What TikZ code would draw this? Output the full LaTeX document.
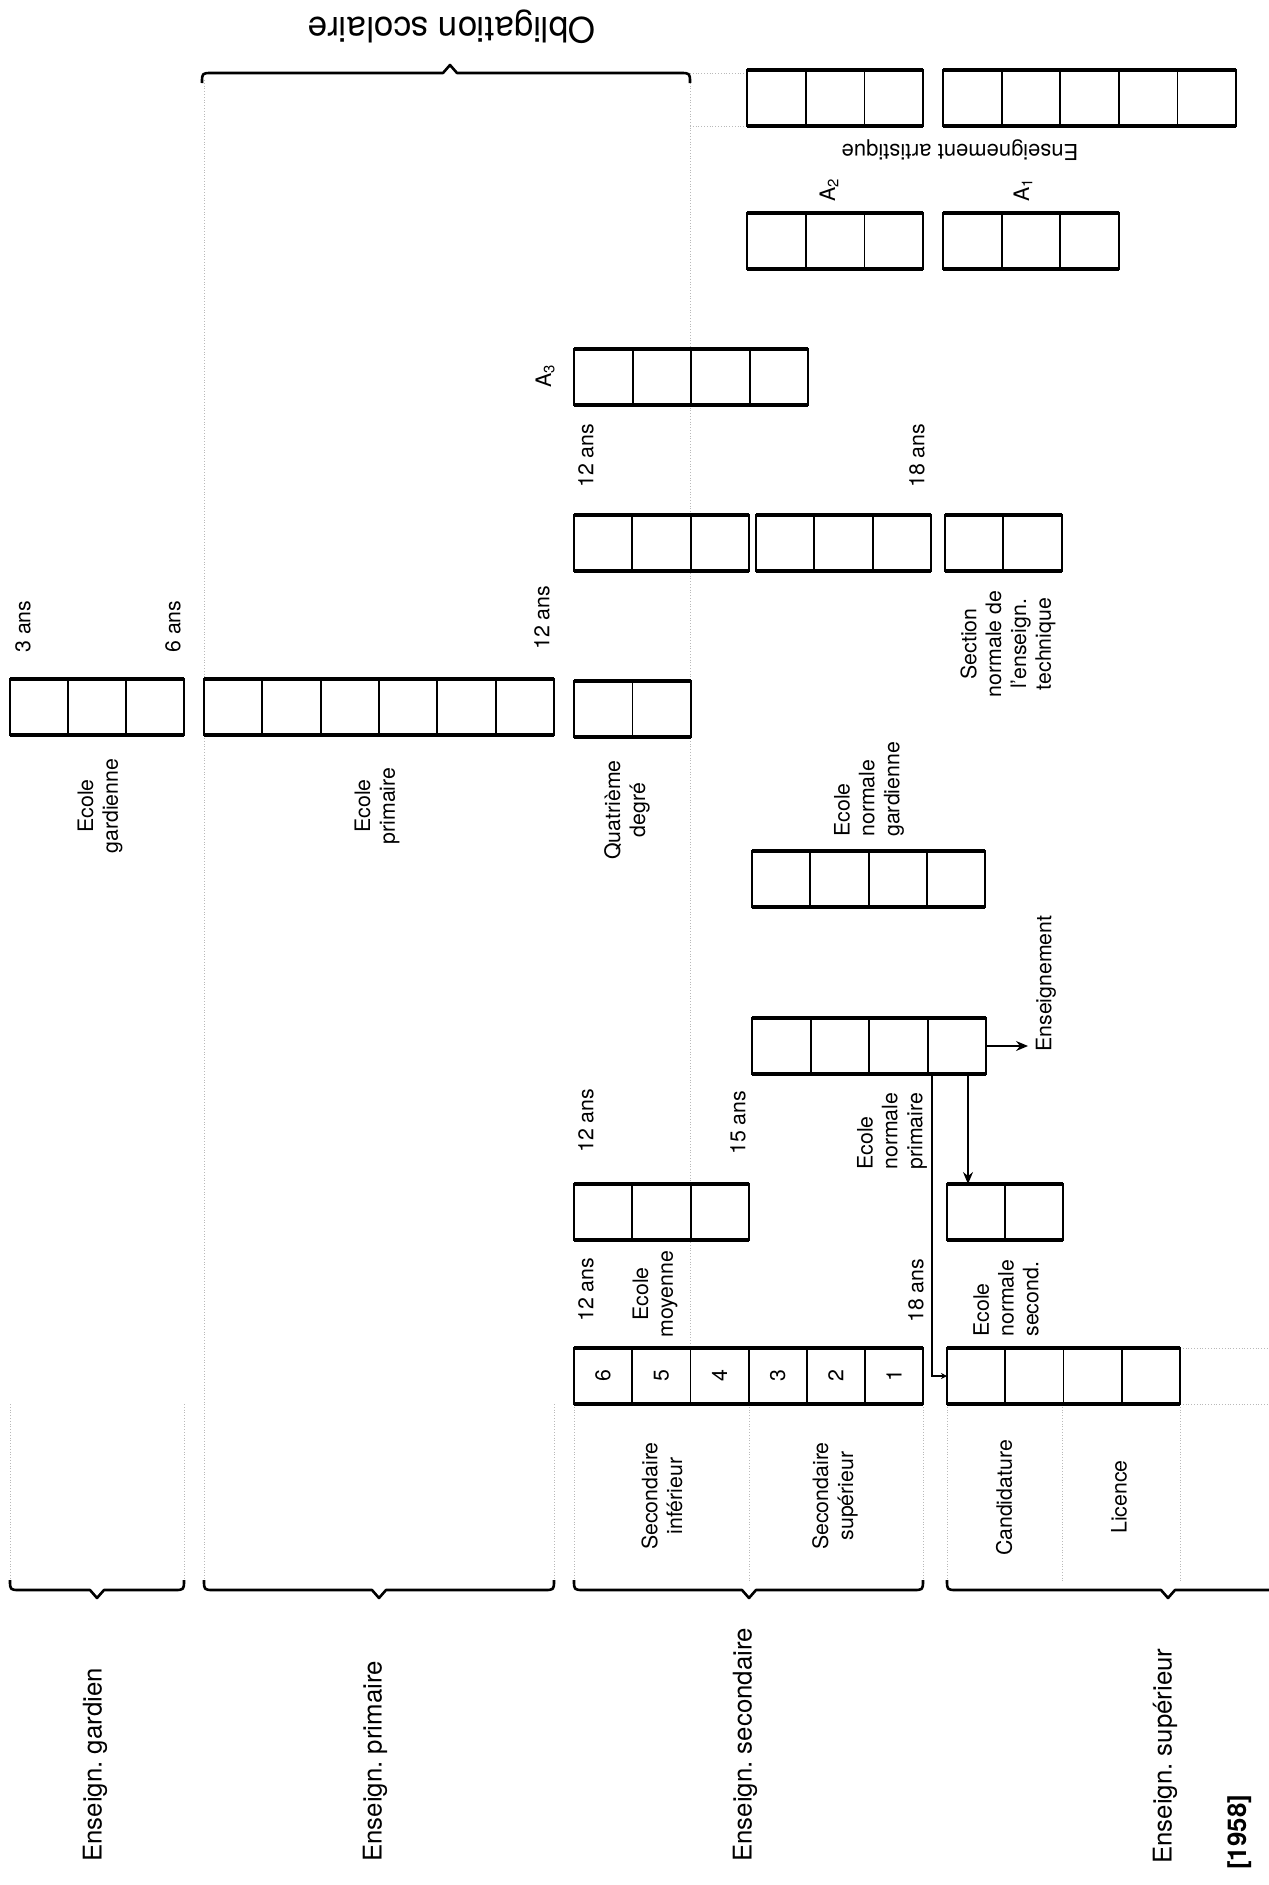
\documentclass[tikz,border=0pt]{standalone}
\usepackage{fontspec}
\setmainfont{TeX Gyre Heros}
\usetikzlibrary{arrows.meta,calc}
\tikzset{
  grpbox/.style={draw, line width=1pt, inner sep=0pt, outer sep=0pt, minimum height=28pt, anchor=north west},
  divline/.style={line width=0.9pt},
  thickedge/.style={line width=1.7pt},
  lbl/.style={font=\fontsize{10.65}{12.4}\selectfont, inner sep=0pt, rotate=90},
  biglbl/.style={font=\fontsize{12.9}{15}\selectfont, inner sep=0pt, rotate=90, anchor=west},
  dotln/.style={densely dotted, gray!55, line width=0.4pt},
  conn/.style={line width=0.6pt},
  bracestyle/.style={line width=1.3pt, line join=round},
}
\newcommand\grp[5]{% name, x, ytop, ncells, cell width (px)
  \node[grpbox, minimum width={#4*#5*0.5pt}] (#1) at (#2,#3) {};
  \pgfmathtruncatemacro\lastdiv{#4-1}
  \foreach \k in {1,...,\lastdiv}{
    \draw[divline] ([xshift={\k*#5*0.5pt}]#1.north west) -- ([xshift={\k*#5*0.5pt}]#1.south west);
  }
  \draw[thickedge] (#1.north west) -- (#1.north east);
  \draw[thickedge] (#1.south west) -- (#1.south east);
}
% brace: x1, x2, xtip, y, s (s = +1 tip down / ends up, -1 tip up / ends down)
\newcommand\mybrace[5]{%
  \draw[bracestyle] (#1,#4-#5*10) .. controls (#1,#4) .. (#1+10,#4)
    -- (#3-7,#4) -- (#3,#4+#5*8) -- (#3+7,#4) -- (#2-10,#4)
    .. controls (#2,#4) .. (#2,#4-#5*10);
}
\begin{document}
\begin{tikzpicture}[x=0.5pt,y=-0.5pt]
\useasboundingbox (0,0) rectangle (1269,1885);

% ---------- faint dotted guide lines ----------
\draw[dotln] (204,80) -- (204,1582);
\draw[dotln] (690,80) -- (690,1348);
\draw[dotln] (690,73) -- (747,73);
\draw[dotln] (690,126) -- (747,126);
\draw[dotln] (1180,1348) -- (1269,1348);
\draw[dotln] (1180,1404) -- (1269,1404);
\foreach \xx in {10,184,554,574,749,923,947,1062,1180}{
  \draw[dotln] (\xx,1404) -- (\xx,1582);
}

% ---------- boxes ----------
\grp{gard}{10}{679}{3}{58}
\grp{prim}{204}{679}{6}{58.33}
\grp{quat}{574}{681}{2}{58.5}
\grp{rtwoa}{574}{515}{3}{58.3}
\grp{rtwob}{756}{515}{3}{58.3}
\grp{sect}{945}{515}{2}{58.3}
\grp{athree}{574}{349}{4}{58.6}
\grp{atwo}{747}{213}{3}{58.7}
\grp{aone}{943}{213}{3}{58.6}
\grp{arta}{747}{70}{3}{58.7}
\grp{artb}{943}{70}{5}{58.6}
\grp{ngard}{752}{851}{4}{58.3}
\grp{nprim}{752}{1018}{4}{58.6}
\grp{nsec}{947}{1184}{2}{58}
\grp{moy}{574}{1184}{3}{58.3}
\grp{sec}{574}{1348}{6}{58.2}
\grp{sup}{947}{1348}{4}{58.25}

% numbers in secondary cells
\foreach \n [count=\i] in {6,5,4,3,2,1}{
  \node[lbl] (num\n) at ({574+(\i-0.5)*58.2},1376) {\n};
}

% ---------- braces ----------
\mybrace{10}{184}{97}{1590}{1}
\mybrace{204}{554}{379}{1590}{1}
\mybrace{574}{923}{749}{1590}{1}
\draw[bracestyle] (947,1580) .. controls (947,1590) .. (957,1590)
  -- (1161,1590) -- (1168,1598) -- (1175,1590) -- (1269,1590);
\mybrace{202}{690}{450}{73}{-1}

% ---------- titles (upside down) ----------
\node[font=\fontsize{17.5}{20}\selectfont, rotate=180, inner sep=0pt] (title) at (452,27) {Obligation scolaire};
\node[font=\fontsize{11}{13}\selectfont, rotate=180, inner sep=0pt] (artlbl) at (960,150) {Enseignement artistique};

% ---------- A labels ----------
\node[lbl] (lathree) at (545,376) {A\textsubscript{3}};
\node[lbl] (latwo) at (829,190) {A\textsubscript{2}};
\node[lbl] (laone) at (1023,190) {A\textsubscript{1}};

% ---------- age labels ----------
\node[lbl, anchor=west] (age3) at (23,653) {3 ans};
\node[lbl, anchor=west] (age6) at (173,653) {6 ans};
\node[lbl, anchor=west] (age12a) at (542,650) {12 ans};
\node[lbl, anchor=west] (age12b) at (586,488) {12 ans};
\node[lbl, anchor=west] (age18a) at (917,488) {18 ans};
\node[lbl, anchor=west] (age12c) at (586,1153) {12 ans};
\node[lbl, anchor=west] (age15) at (738,1155) {15 ans};
\node[lbl, anchor=west] (age12d) at (586,1322) {12 ans};
\node[lbl, anchor=west] (age18b) at (916,1323) {18 ans};

% ---------- school labels ----------
\node[lbl, align=center] (lgard) at (100,806) {Ecole\\gardienne};
\node[lbl, align=center] (lprim) at (377,806) {Ecole\\primaire};
\node[lbl, align=center] (lquat) at (627,810) {Quatrième\\degré};
\node[lbl, align=left, anchor=west] (lngard) at (869,837) {Ecole\\normale\\gardienne};
\node[lbl, align=center] (lsect) at (1008,644) {Section\\normale de\\l'enseign.\\technique};
\node[lbl, align=left, anchor=west] (lnprim) at (892,1170) {Ecole\\normale\\primaire};
\node[lbl, align=center] (lmoy) at (655,1294) {Ecole\\moyenne};
\node[lbl, align=left, anchor=west] (lnsec) at (1006,1337) {Ecole\\normale\\second.};
\node[lbl, anchor=west] (lens) at (1046,1052) {Enseignement};

\node[lbl, align=center] (lsinf) at (662,1496) {Secondaire\\inférieur};
\node[lbl, align=center] (lssup) at (835,1496) {Secondaire\\supérieur};
\node[lbl] (lcand) at (1004,1498) {Candidature};
\node[lbl] (llic) at (1119,1497) {Licence};

% ---------- big bottom labels ----------
\node[biglbl] (bgard) at (95,1862) {Enseign.\ gardien};
\node[biglbl] (bprim) at (375,1862) {Enseign.\ primaire};
\node[biglbl] (bsec) at (745,1862) {Enseign.\ secondaire};
\node[biglbl] (bsup) at (1165,1864) {Enseign.\ supérieur};
\node[biglbl, font=\fontsize{12.9}{15}\selectfont\bfseries] (byear) at (1240,1870) {[1958]};

% ---------- connectors ----------
\coordinate (ensTip) at (1028,1046);
\draw[conn, -{Stealth[length=6pt,width=5pt,inset=2pt]}] (nprim.east) -- (ensTip);
\coordinate (downX) at (968,0);
\draw[conn, -{Stealth[length=6pt,width=5pt,inset=2pt]}] (nprim.south -| downX) -- (nsec.north -| downX);
\coordinate (hookX) at (932,0);
\draw[conn, -{Stealth[length=3pt,width=3pt]}] (nprim.south -| hookX) |- (sup.west);
\end{tikzpicture}
\end{document}
